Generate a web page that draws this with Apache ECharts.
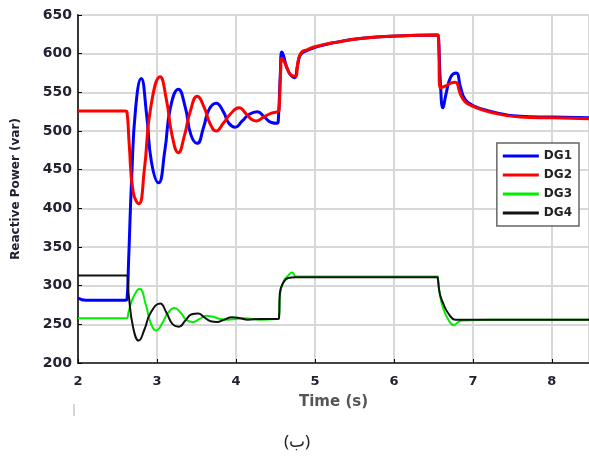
<!DOCTYPE html>
<html>
<head>
<meta charset="utf-8">
<script src="https://cdn.jsdelivr.net/npm/echarts@6/dist/echarts.min.js"></script>
<style>
  html, body { margin: 0; padding: 0; background: #fff; }
  #chart { width: 589px; height: 459px; }
</style>
</head>
<body>
<div id="chart"></div>
<script>
// [time (s), reactive power (var)]
var dg1 = [[2, 284], [2.1, 281], [2.6, 281], [2.62, 282], [2.64, 330], [2.68, 440], [2.73, 530], [2.8, 568],
  [2.87, 520], [2.93, 460], [3.02, 433], [3.1, 475], [3.17, 530], [3.27, 554], [3.36, 530], [3.43, 495],
  [3.51, 484], [3.59, 505], [3.66, 528], [3.75, 536], [3.84, 525], [3.91, 510], [3.99, 505], [4.08, 513],
  [4.16, 521], [4.27, 525], [4.36, 518], [4.45, 511], [4.52, 510], [4.535, 512], [4.56, 570], [4.58, 602],
  [4.6, 598], [4.66, 578], [4.74, 569], [4.78, 585], [4.82, 599], [4.9, 604], [5.0, 608], [5.23, 614],
  [5.6, 620], [6.04, 623], [6.555, 624], [6.565, 620], [6.59, 560], [6.62, 530], [6.66, 548], [6.72, 570],
  [6.79, 575], [6.84, 558], [6.9, 541], [7.0, 533], [7.2, 526], [7.6, 519], [8.0, 518], [8.47, 517]];
var dg2 = [[2, 526], [2.6, 526], [2.62, 525], [2.65, 480], [2.7, 420], [2.77, 406], [2.84, 450], [2.92, 530],
  [3.04, 570], [3.12, 540], [3.19, 495], [3.27, 472], [3.35, 495], [3.42, 525], [3.51, 545], [3.6, 530],
  [3.67, 510], [3.75, 500], [3.84, 510], [3.93, 522], [4.04, 530], [4.13, 522], [4.2, 515], [4.26, 513],
  [4.35, 518], [4.45, 523], [4.53, 525], [4.545, 527], [4.565, 575], [4.58, 594], [4.62, 588], [4.7, 572],
  [4.75, 571], [4.79, 592], [4.83, 602], [4.9, 605], [5.0, 609], [5.23, 614], [5.6, 620], [6.04, 623],
  [6.555, 624], [6.565, 620], [6.585, 556], [6.65, 558], [6.72, 562], [6.78, 563], [6.84, 548], [6.9, 538],
  [7.0, 532], [7.2, 525], [7.6, 518], [8.0, 517], [8.47, 516]];
var dg3 = [[2, 258], [2.6, 258], [2.62, 258], [2.64, 266], [2.7, 285], [2.78, 296], [2.86, 275], [2.92, 252],
  [2.99, 242], [3.07, 252], [3.14, 265], [3.22, 271], [3.3, 265], [3.37, 256], [3.45, 253], [3.54, 257],
  [3.62, 261], [3.7, 260], [3.8, 257], [3.9, 256], [4.0, 257], [4.1, 258], [4.2, 257], [4.3, 256],
  [4.53, 257], [4.545, 258], [4.56, 290], [4.6, 305], [4.66, 313], [4.71, 317], [4.76, 312], [4.85, 312],
  [6.55, 312], [6.555, 311], [6.58, 290], [6.62, 272], [6.69, 256], [6.76, 249], [6.83, 254], [6.9, 255],
  [7.2, 256], [8.47, 256]];
var dg4 = [[2, 313], [2.6, 313], [2.62, 313], [2.64, 290], [2.7, 245], [2.77, 229], [2.84, 243], [2.92, 265],
  [3.04, 277], [3.12, 265], [3.2, 250], [3.28, 247], [3.36, 255], [3.44, 263], [3.52, 264], [3.6, 259],
  [3.68, 254], [3.76, 253], [3.85, 256], [3.95, 259], [4.05, 258], [4.15, 256], [4.3, 257], [4.53, 257],
  [4.545, 258], [4.555, 290], [4.6, 304], [4.66, 310], [4.75, 311], [6.55, 311], [6.555, 310], [6.58, 290],
  [6.62, 278], [6.69, 264], [6.78, 256], [6.85, 256], [8.47, 256]];

var names = ["DG1", "DG2", "DG3", "DG4"];
var colors = ["#0000ff", "#ff0000", "#00ee00", "#111111"];
var widths = [3, 3, 2, 2];
var lines = [dg1, dg2, dg3, dg4];

var font = "DejaVu Sans";
var chart = echarts.init(document.getElementById("chart"));

chart.setOption({
  backgroundColor: "#fff",
  animation: false,
  grid: {
    left: 78, top: 15, right: -3, bottom: 96,
    show: true, borderColor: "#000", borderWidth: 1.5
  },
  legend: {
    orient: "vertical",
    right: 10, top: 143,
    data: names,
    icon: "rect",
    itemWidth: 36, itemHeight: 3, itemGap: 7,
    padding: [7, 7, 7, 6],
    backgroundColor: "#fff",
    borderColor: "#666", borderWidth: 1.5,
    textStyle: { fontFamily: font, fontSize: 12, fontWeight: "bold", color: "#222" }
  },
  xAxis: {
    type: "value",
    min: 2, max: 8.47, interval: 1,
    name: "Time (s)",
    nameLocation: "middle", nameGap: 32,
    nameTextStyle: { fontFamily: font, fontSize: 15, fontWeight: "bold", color: "#555" },
    axisLine: { lineStyle: { color: "#444", width: 2 } },
    axisTick: { inside: true, length: 4, lineStyle: { color: "#000" } },
    axisLabel: {
      fontFamily: font, fontSize: 13, fontWeight: "bold", color: "#223", margin: 12,
      showMaxLabel: false
    },
    splitLine: { lineStyle: { color: "#d8d8d8", width: 2 } }
  },
  yAxis: {
    type: "value",
    min: 200, max: 650, interval: 50,
    name: "Reactive Power (var)",
    nameLocation: "middle", nameGap: 56,
    nameTextStyle: { fontFamily: font, fontSize: 12, fontWeight: "bold", color: "#223" },
    axisLine: { lineStyle: { color: "#000", width: 1.5 } },
    axisTick: { inside: true, length: 4, lineStyle: { color: "#000" } },
    axisLabel: { fontFamily: font, fontSize: 14, fontWeight: "bold", color: "#223", margin: 6 },
    splitLine: { lineStyle: { color: "#d8d8d8", width: 2 } }
  },
  graphic: [
    {
      type: "text", left: 284, top: 434,
      style: { text: "(ب)", font: "17px 'Noto Sans', 'DejaVu Sans'", fill: "#222" }
    },
    {
      type: "line", shape: { x1: 74, y1: 404, x2: 74, y2: 416 },
      style: { stroke: "#aaa", lineWidth: 1 }
    }
  ],
  series: lines.map(function (d, i) {
    return {
      name: names[i],
      type: "line",
      data: d,
      smooth: 0.5,
      showSymbol: false,
      color: colors[i],
      lineStyle: { color: colors[i], width: widths[i] }
    };
  })
});
</script>
</body>
</html>
